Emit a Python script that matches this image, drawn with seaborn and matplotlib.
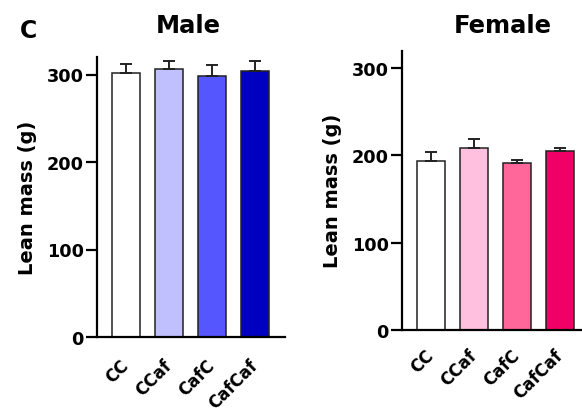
import numpy as np
import pandas as pd
import matplotlib
import matplotlib.pyplot as plt
import seaborn as sns

matplotlib.use('Agg')

groups = ['CC', 'CCaf', 'CafC', 'CafCaf']

male_mean = [301.5, 306, 298.5, 304]
male_sem = [10.5, 10, 12.5, 11]
male_colors = ['#FFFFFF', '#C0C0FF', '#5656FF', '#0000C0']

female_mean = [193.5, 208.5, 191, 205]
female_sem = [10, 10.5, 3.5, 3.5]
female_colors = ['#FFFFFF', '#FFC0E0', '#FF6699', '#F00066']

sns.set_style('ticks')
plt.rcParams['font.family'] = ['DejaVu Sans']
plt.rcParams['font.weight'] = 'bold'
for k in ['text.color', 'axes.labelcolor', 'xtick.color', 'ytick.color']:
    plt.rcParams[k] = 'black'

fig = plt.figure(figsize=(5.82, 4.14), dpi=100)
ax_m = fig.add_axes([97 / 582, 1 - 338 / 414, 188 / 582, 280 / 414])
ax_f = fig.add_axes([402 / 582, 1 - 331 / 414, 180 / 582, 279.3 / 414])


def draw(ax, means, sems, colors, title, xmax, title_dx, title_pad, xpad):
    df = pd.DataFrame({'group': groups, 'mass': means})
    sns.barplot(data=df, x='group', y='mass', hue='group', palette=colors,
                edgecolor='#222222', linewidth=1.1, width=0.66,
                legend=False, ax=ax, saturation=1)
    ax.errorbar(np.arange(len(groups)), means,
                yerr=[np.zeros(len(sems)), sems], fmt='none',
                ecolor='#222222', elinewidth=1.4, capsize=4.6, capthick=1.4)
    ax.set_ylim(0, 320)
    ax.set_xlim(-0.67, xmax)
    ax.set_yticks([0, 100, 200, 300])
    ax.tick_params(axis='y', length=8, width=1.6, labelsize=12.7, pad=1.5)
    ax.tick_params(axis='x', length=0, labelsize=12, pad=xpad)
    for lab in ax.get_xticklabels():
        lab.set_rotation(45)
        lab.set_ha('right')
        lab.set_va('center')
        lab.set_rotation_mode('anchor')
        lab.set_fontweight('bold')
    for lab in ax.get_yticklabels():
        lab.set_fontweight('bold')
    ax.set_xlabel('')
    ax.set_ylabel('Lean mass (g)', fontsize=14, fontweight='bold', labelpad=7)
    for s in ['top', 'right']:
        ax.spines[s].set_visible(False)
    for s in ['left', 'bottom']:
        ax.spines[s].set_linewidth(1.6)
        ax.spines[s].set_color('black')
    ax.set_title(title, fontsize=17.5, fontweight='bold', pad=title_pad,
                 x=0.5 + title_dx)


draw(ax_m, male_mean, male_sem, male_colors, 'Male', 3.70, -0.013, 18, 18)
draw(ax_f, female_mean, female_sem, female_colors, 'Female', 3.51, 0.06, 13.5, 16)

fig.text(20 / 582, 1 - 31.5 / 414, 'C', fontsize=17, fontweight='bold', va='center')

fig.savefig('out.png', dpi=100)
